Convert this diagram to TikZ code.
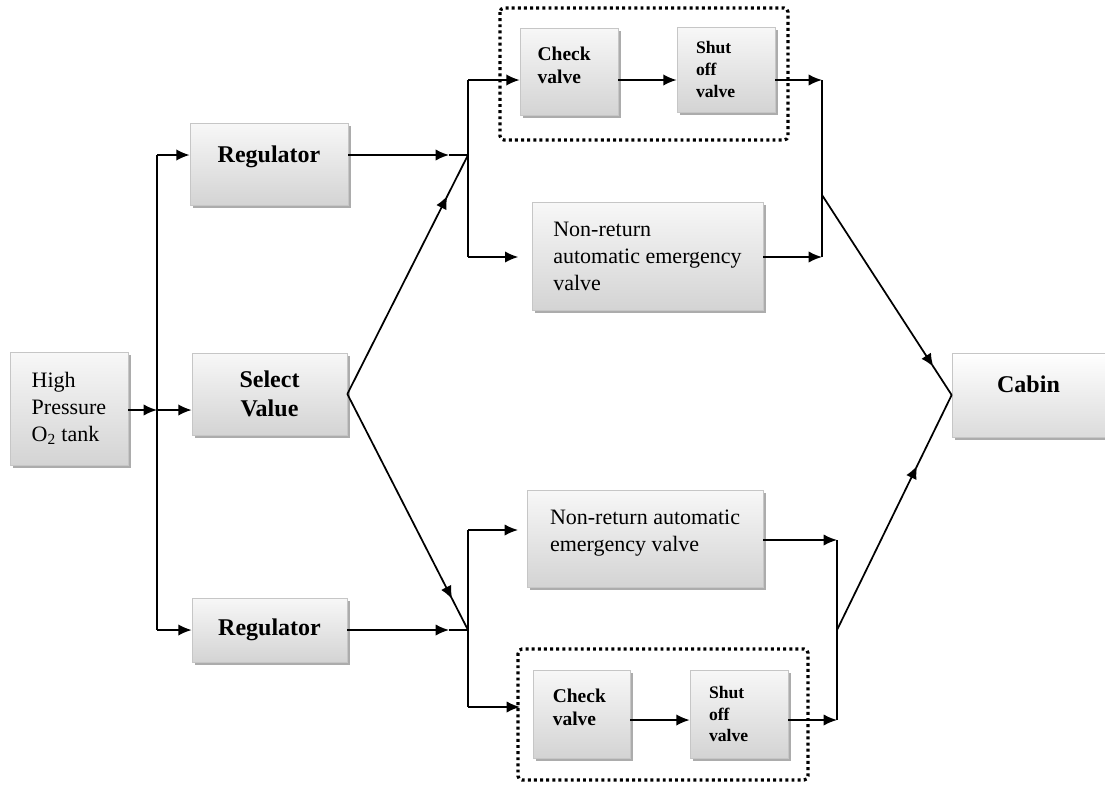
\documentclass[tikz,border=0pt]{standalone}
\usepackage{fontspec}
\setmainfont{Liberation Serif}
\usetikzlibrary{arrows.meta,shadows,calc}
\newcommand{\dn}[1]{\rule[-#1]{0pt}{#1}}
\begin{document}
\begin{tikzpicture}[x=0.75pt,y=-0.75pt,
 box/.style={draw=gray!45, line width=0.5pt, top color=gray!6, bottom color=gray!34, inner sep=0pt,
   drop shadow={shadow xshift=2.6pt, shadow yshift=-2.6pt, fill=gray!65, opacity=1}},
 bigb/.style={font=\bfseries\fontsize{18}{21.5}\selectfont, align=center},
 regt/.style={font=\fontsize{16.5}{20.3}\selectfont, align=left},
 chkt/.style={font=\bfseries\fontsize{14.6}{17}\selectfont, align=left},
 shtt/.style={font=\bfseries\fontsize{13.2}{16.2}\selectfont, align=left, text width=45pt},
 ln/.style={line width=1.3pt},
 arr/.style={ln, -{Latex[length=10pt,width=8.5pt]}},
 grp/.style={line width=2.4pt, dash pattern=on 2.2pt off 2.4pt, rounded corners=3pt}]
\useasboundingbox (0,0) rectangle (1105,785);
\fill[white] (0,0) rectangle (1105,785);

% groups
\draw[grp] (500,8) rectangle (788,140);
\draw[grp] (518,649) rectangle (808,780);

% boxes
\node[box, regt, minimum width=88.5pt, minimum height=84.75pt] (tank) at (69,408.5) {High\\Pressure\\O\textsubscript{2} tank};
\node[box, bigb, minimum width=118.5pt, minimum height=61.5pt] (reg1) at (269,164) {Regulator\dn{15pt}};
\node[box, bigb, minimum width=116.25pt, minimum height=61.5pt] (sel) at (269.5,394) {Select\\Value};
\node[box, bigb, minimum width=116.25pt, minimum height=48pt] (reg2) at (269.5,630) {Regulator};
\node[box, chkt, text width=47pt, minimum width=73.5pt, minimum height=65.25pt] (chk1) at (569,71.5) {Check\\valve\dn{9pt}};
\node[box, shtt, minimum width=73.5pt, minimum height=63.75pt] (sht1) at (726,69.5) {Shut\\off\\valve};
\node[box, regt, minimum width=173.25pt, minimum height=81pt] (nr1) at (647.5,256) {Non-return\\automatic emergency\\valve};
\node[box, bigb, minimum width=114.75pt, minimum height=63pt, top color=white, bottom color=gray!28] (cabin) at (1028.5,395) {Cabin\dn{16.5pt}};
\node[box, regt, minimum width=177pt, minimum height=72.75pt] (nr2) at (645,538.5) {Non-return automatic\\emergency valve\dn{12pt}};
\node[box, chkt, text width=43pt, minimum width=72.75pt, minimum height=66pt] (chk2) at (581.5,714) {Check\\valve\dn{10.5pt}};
\node[box, shtt, minimum width=73.5pt, minimum height=66pt] (sht2) at (739,714) {Shut\\off\\valve};

% left distribution
\coordinate (vt) at (157,155);
\coordinate (vm) at (157,410);
\coordinate (vb) at (157,630);
\draw[ln] (vt) -- (vb);
\draw[arr] (tank.east |- vm) -- (vm);
\draw[arr] (vm) -- (sel.west |- vm);
\draw[arr] (vt) -- (reg1.west |- vt);
\draw[arr] (vb) -- (reg2.west |- vb);

% upper branch
\coordinate (ju) at (468,155);
\coordinate (jua) at (449,155);
\coordinate (jut) at (468,80);
\coordinate (jub) at (468,257);
\draw[arr] (reg1.east |- ju) -- (jua);
\draw[ln] (jua) -- (ju);
\draw[ln] (jut) -- (jub);
\draw[arr] (jut) -- (chk1.west |- jut);
\draw[arr, shorten >=10pt] (jub) -- (nr1.west |- jub);
\draw[arr] (chk1.east |- jut) -- (sht1.west |- jut);
\coordinate (rut) at (822,80);
\coordinate (rub) at (822,257);
\coordinate (ruo) at (822,195);
\draw[arr] (sht1.east |- rut) -- (rut);
\draw[arr] (nr1.east |- rub) -- (rub);
\draw[ln] (rut) -- (rub);
\draw[arr] (ruo) -- ($(ruo)!0.86!(cabin.west)$);
\draw[ln] ($(ruo)!0.85!(cabin.west)$) -- (cabin.west);

% select diagonals
\draw[arr] (sel.east) -- ($(sel.east)!0.83!(ju)$);
\draw[ln] ($(sel.east)!0.82!(ju)$) -- (ju);

% lower branch
\coordinate (jl) at (468,630);
\coordinate (jla) at (449,630);
\coordinate (jlt) at (468,530);
\coordinate (jlb) at (468,707);
\draw[arr] (sel.east) -- ($(sel.east)!0.87!(jl)$);
\draw[ln] ($(sel.east)!0.86!(jl)$) -- (jl);
\draw[arr] (reg2.east |- jl) -- (jla);
\draw[ln] (jla) -- (jl);
\draw[ln] (jlt) -- (jlb);
\draw[arr, shorten >=6.5pt] (jlt) -- (nr2.west |- jlt);
\draw[arr, shorten >=9.5pt] (jlb) -- (chk2.west |- jlb);
\coordinate (cs) at (660,720);
\draw[arr] (chk2.east |- cs) -- (sht2.west |- cs);
\coordinate (rlt) at (837,540);
\coordinate (rlb) at (837,720);
\coordinate (rlo) at (837,630);
\draw[arr] (nr2.east |- rlt) -- (rlt);
\draw[arr] (sht2.east |- rlb) -- (rlb);
\draw[ln] (rlt) -- (rlb);
\draw[arr] (rlo) -- ($(rlo)!0.70!(cabin.west)$);
\draw[ln] ($(rlo)!0.69!(cabin.west)$) -- (cabin.west);
\end{tikzpicture}
\end{document}
